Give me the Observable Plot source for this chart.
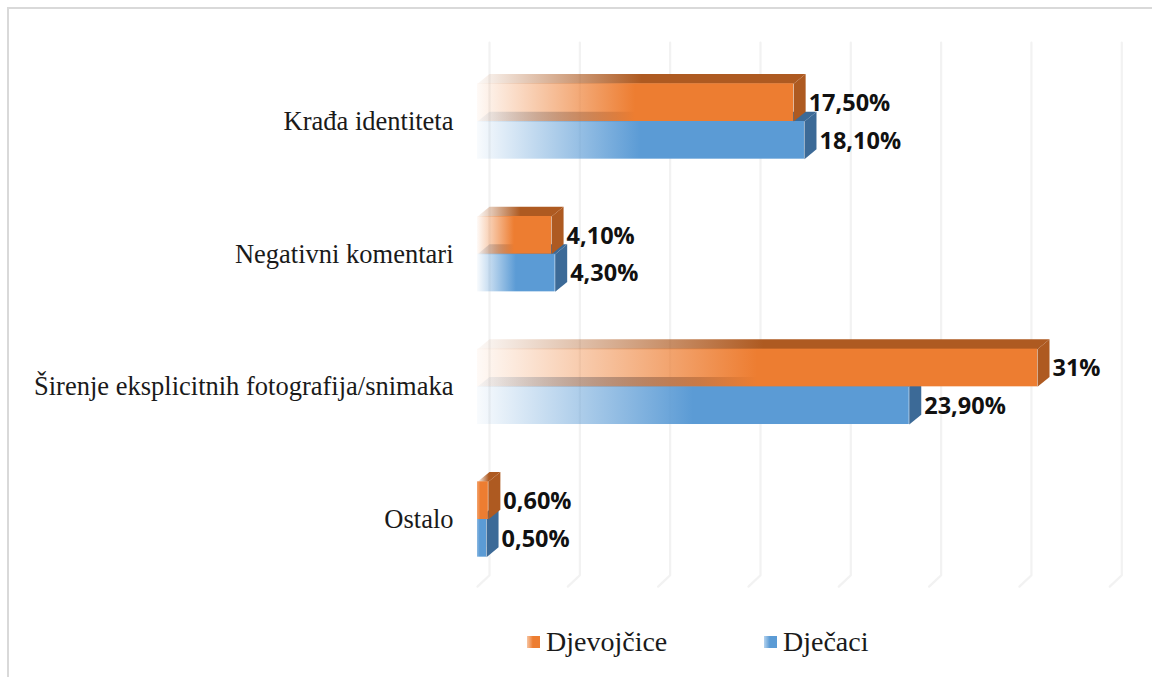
<!DOCTYPE html>
<html>
<head>
<meta charset="utf-8">
<script src="https://cdn.jsdelivr.net/npm/d3@7"></script>
<script src="https://cdn.jsdelivr.net/npm/@observablehq/plot@0.6"></script>
<style>
html,body{margin:0;padding:0;background:#fff;overflow:hidden}
#frame{position:absolute;left:7px;top:7px;right:0;bottom:0;border-left:2.5px solid #d9d9d9;border-top:2.5px solid #d9d9d9;pointer-events:none}
#chart svg{display:block}
#legend{position:relative;height:57px;font-family:"Liberation Serif",serif;font-size:28px;color:#1a1a1a}
#legend span{position:absolute;top:6px;line-height:32px;white-space:nowrap}
#legend i{position:absolute;top:16px;width:13px;height:12px}
</style>
</head>
<body>
<div id="chart"></div>
<div id="legend">
  <i style="left:527px;background:linear-gradient(90deg,#f7c5a3,#ED7D31 45%)"></i><span style="left:546px">Djevojčice</span>
  <i style="left:764px;background:linear-gradient(90deg,#b5d3ee,#5B9BD5 45%)"></i><span style="left:783px">Dječaci</span>
</div>
<div id="frame"></div>
<script>
const categories = ["Krađa identiteta", "Negativni komentari", "Širenje eksplicitnih fotografija/snimaka", "Ostalo"];
const girls = [17.5, 4.1, 31, 0.6];
const boys = [18.1, 4.3, 23.9, 0.5];
const girlLabels = ["17,50%", "4,10%", "31%", "0,60%"];
const boyLabels = ["18,10%", "4,30%", "23,90%", "0,50%"];
const gridTicks = [0, 5, 10, 15, 20, 25, 30, 35];
const colors = {
  orange: {front: "#ED7D31", dark: "#AE5A21"},
  blue: {front: "#5B9BD5", dark: "#3C6A97"}
};

// depth of the 3D box in data units, bar thickness in category steps
const depthX = 0.665, depthY = 0.074, thick = 0.284;

const build = (values, labels, name, top, bottom) =>
  values.map((v, i) => ({v, i, name, label: labels[i], y1: i + top, y2: i + bottom, short: v < 1}));
const orangeRows = build(girls, girlLabels, "orange", -thick, 0);
const blueRows = build(boys, boyLabels, "blue", 0, thick);

const topFace = rows => rows.flatMap(r => [
  {x: 0, y: r.y1, k: r.i}, {x: r.v, y: r.y1, k: r.i},
  {x: r.v + depthX, y: r.y1 - depthY, k: r.i}, {x: depthX, y: r.y1 - depthY, k: r.i}
]);
const sideFace = rows => rows.flatMap(r => [
  {x: r.v, y: r.y1, k: r.i}, {x: r.v + depthX, y: r.y1 - depthY, k: r.i},
  {x: r.v + depthX, y: r.y2 - depthY, k: r.i}, {x: r.v, y: r.y2, k: r.i}
]);
const gridPath = gridTicks.flatMap(t => [
  {x: t + depthX, y: -0.595, k: t}, {x: t + depthX, y: 3.42, k: t}, {x: t, y: 3.42 + depthY + 0.012, k: t}
]);

const series = (rows, name) => [
  Plot.line(topFace(rows), {x: "x", y: "y", z: "k", fill: `url(#${name}Top)`, stroke: "none", curve: "linear"}),
  Plot.line(sideFace(rows), {x: "x", y: "y", z: "k", fill: colors[name].dark, stroke: "none", curve: "linear"}),
  Plot.rect(rows.filter(r => !r.short), {x1: 0, x2: "v", y1: "y1", y2: "y2", fill: `url(#${name}Front)`}),
  Plot.rect(rows.filter(r => r.short), {x1: 0, x2: "v", y1: "y1", y2: "y2", fill: `url(#${name}Short)`})
];

const labelOptions = {
  x: "v", text: "label", dx: 15, textAnchor: "start", fontSize: 23.5, fontWeight: 700,
  fontFamily: "'Open Sans',sans-serif", fill: "#111"
};

const plot = Plot.plot({
  width: 1152,
  height: 620,
  margin: 0,
  x: {domain: [0, 31], range: [477, 1037], axis: null},
  y: {domain: [0, 3], range: [121, 519], axis: null},
  style: {background: "transparent"},
  marks: [
    Plot.line(gridPath, {x: "x", y: "y", z: "k", stroke: "#f2f2f2", strokeWidth: 2.2, curve: "linear"}),
    ...series(blueRows, "blue"),
    ...series(orangeRows, "orange"),
    Plot.text(categories, {x: () => 0, y: (d, i) => i, text: d => d, dx: -24, textAnchor: "end",
      fontSize: 26.5, fontFamily: "'Liberation Serif',serif", fill: "#1a1a1a"}),
    Plot.text(orangeRows, {...labelOptions, y: d => d.i - 0.135}),
    Plot.text(blueRows, {...labelOptions, y: d => d.i + 0.148})
  ]
});

const grad = (id, color, start, end) =>
  `<linearGradient id="${id}" x1="0" x2="1" y1="0" y2="0">
     <stop offset="0" stop-color="${color}" stop-opacity="${start}"/>
     <stop offset="${end}" stop-color="${color}" stop-opacity="1"/>
   </linearGradient>`;
plot.insertAdjacentHTML("afterbegin", `<defs>
  ${grad("orangeFront", colors.orange.front, 0.04, 0.5)}
  ${grad("blueFront", colors.blue.front, 0.04, 0.5)}
  ${grad("orangeTop", colors.orange.dark, 0.04, 0.5)}
  ${grad("blueTop", colors.blue.dark, 0.04, 0.5)}
  ${grad("orangeShort", colors.orange.front, 0.7, 0.3)}
  ${grad("blueShort", colors.blue.front, 0.7, 0.3)}
</defs>`);
document.getElementById("chart").appendChild(plot);
</script>
</body>
</html>
